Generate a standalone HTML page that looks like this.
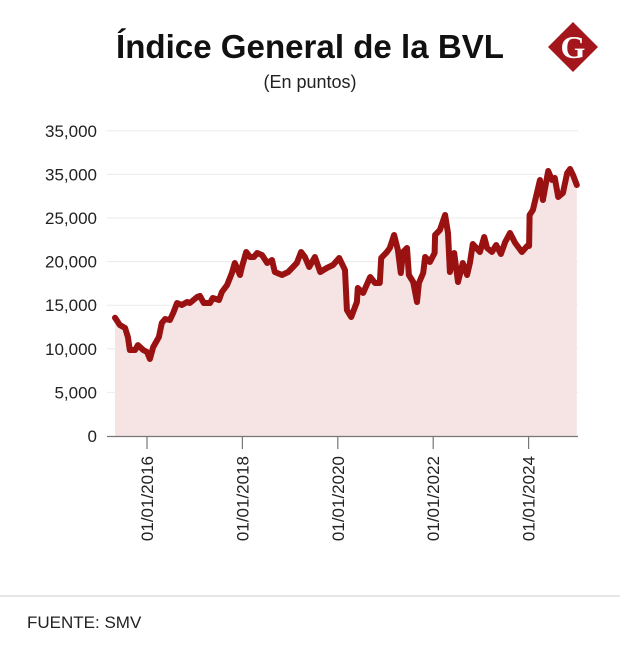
<!DOCTYPE html>
<html><head><meta charset="utf-8"><style>
body{margin:0;width:620px;height:661px;background:#fff;font-family:"Liberation Sans",sans-serif;overflow:hidden}
</style></head><body>
<svg width="620" height="661">
<text x="310" y="58" text-anchor="middle" font-size="33" font-weight="bold" fill="#111" textLength="388" lengthAdjust="spacingAndGlyphs">Índice General de la BVL</text>
<text x="310" y="88" text-anchor="middle" font-size="18" fill="#222">(En puntos)</text>
<g>
<polygon points="573,22 598,47 573,72 548,47" fill="#a3161b"/>
<text x="573" y="58" text-anchor="middle" font-family="Liberation Serif,serif" font-weight="bold" font-size="32" fill="#fff">G</text>
</g>
<g id="grid"></g><g id="plot"></g><g id="axes"></g>
<line x1="0" y1="596" x2="620" y2="596" stroke="#ccc"/>
<text x="27" y="628" font-size="17" fill="#222">FUENTE: SMV</text>
</svg>
<script>
const dates=[2015.33,2015.43,2015.54,2015.60,2015.64,2015.75,2015.81,2015.92,2016.00,2016.06,2016.13,2016.25,2016.31,2016.38,2016.48,2016.55,2016.63,2016.73,2016.84,2016.90,2017.05,2017.11,2017.19,2017.32,2017.38,2017.51,2017.57,2017.68,2017.78,2017.84,2017.95,2017.99,2018.08,2018.16,2018.24,2018.31,2018.41,2018.52,2018.62,2018.68,2018.83,2018.96,2019.14,2019.23,2019.31,2019.40,2019.52,2019.63,2019.77,2019.90,2020.03,2020.15,2020.19,2020.28,2020.40,2020.42,2020.53,2020.68,2020.78,2020.88,2020.91,2021.03,2021.09,2021.18,2021.26,2021.32,2021.37,2021.45,2021.49,2021.58,2021.66,2021.70,2021.79,2021.83,2021.93,2022.03,2022.04,2022.14,2022.25,2022.31,2022.35,2022.44,2022.52,2022.62,2022.71,2022.77,2022.83,2022.98,2023.07,2023.13,2023.23,2023.32,2023.42,2023.51,2023.61,2023.72,2023.86,2023.97,2024.01,2024.02,2024.09,2024.24,2024.30,2024.41,2024.49,2024.55,2024.62,2024.72,2024.81,2024.87,2024.93,2025.01];
const values=[13570,12730,12390,11350,9860,9860,10430,9860,9630,8830,10200,11350,12960,13420,13300,14100,15250,15020,15370,15250,15940,16060,15250,15250,15830,15600,16510,17320,18690,19840,18460,19380,21100,20530,20530,20990,20760,19840,20180,18810,18460,18810,19840,21100,20530,19380,20530,18810,19270,19610,20410,19040,14450,13650,15370,16970,16400,18230,17550,17550,20410,21100,21560,23050,21330,18690,21100,21560,18460,17660,15370,17550,18690,20530,19950,20990,23050,23620,25340,23280,18810,20990,17660,19840,18460,19840,22020,21100,22820,21560,21100,21900,20870,22250,23280,22130,21100,21790,21790,25340,25920,29360,27060,30390,29360,29590,27410,27870,30160,30620,29930,28780];
const yTicks=[0,5000,10000,15000,20000,25000,30000,35000];
const yTickLabels=["0","5,000","10,000","15,000","20,000","25,000","35,000","35,000"];
const xTicks=[2016,2018,2020,2022,2024];
const xTickLabels=["01/01/2016","01/01/2018","01/01/2020","01/01/2022","01/01/2024"];
const NS="http://www.w3.org/2000/svg";
const x=t=>147+(t-2016)*47.7;
const y=v=>436-v/5000*43.6;
function mk(tag,attrs,parent){const e=document.createElementNS(NS,tag);for(const k in attrs)e.setAttribute(k,attrs[k]);parent.appendChild(e);return e;}
const grid=document.getElementById('grid'),plot=document.getElementById('plot'),axes=document.getElementById('axes');
yTicks.forEach((v,i)=>{
 if(v>0){const g=mk('line',{x1:107,x2:578,y1:y(v),y2:y(v),stroke:'#ebebeb'},grid);
 
 }
 const t=mk('text',{x:97,y:y(v)+6,'text-anchor':'end','font-size':17,fill:'#222'},axes);
 t.textContent=yTickLabels[i];
 
 
});
let pts=dates.map((d,i)=>x(d).toFixed(1)+','+y(values[i]).toFixed(1));
const area=mk('polygon',{points:x(dates[0])+','+y(0)+' '+pts.join(' ')+' '+x(dates[dates.length-1])+','+y(0),fill:'#f5e4e3'},plot);


const line=mk('polyline',{points:pts.join(' '),fill:'none',stroke:'#9a1111','stroke-width':6,'stroke-linejoin':'round','stroke-linecap':'round'},plot);


const ax=mk('line',{x1:107,x2:578,y1:436.5,y2:436.5,stroke:'#777','stroke-width':1.2},axes);


xTicks.forEach((t,i)=>{
 const tk=mk('line',{x1:x(t),x2:x(t),y1:436,y2:449,stroke:'#777','stroke-width':1.2},axes);
 
 
 const lb=mk('text',{x:0,y:0,'text-anchor':'end','font-size':17,fill:'#222',transform:`translate(${x(t)+6},456) rotate(-90)`},axes);
 lb.textContent=xTickLabels[i];
 
 
});
</script>
</body></html>
